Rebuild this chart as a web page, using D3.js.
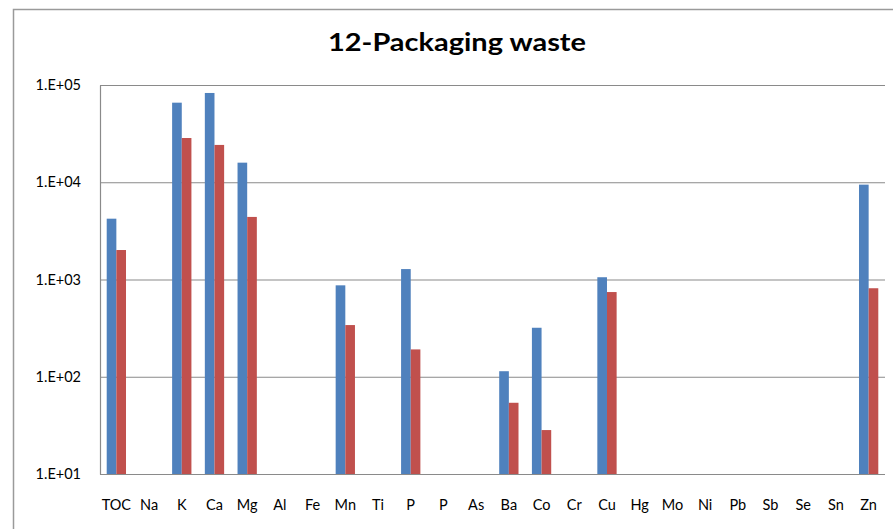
<!DOCTYPE html>
<html>
<head>
<meta charset="utf-8">
<script src="https://cdn.jsdelivr.net/npm/d3@7/dist/d3.min.js"></script>
<style>
  html, body { margin: 0; padding: 0; background: #fff; }
  svg { display: block; }
  text { font-family: Lato, "Open Sans", "Liberation Sans", sans-serif; fill: #000; }
</style>
</head>
<body>
<svg id="chart" width="893" height="529"></svg>
<script>
// ---- data ----
const title = "12-Packaging waste";
const categories = ["TOC","Na","K","Ca","Mg","Al","Fe","Mn","Ti","P","P","As","Ba","Co","Cr","Cu","Hg","Mo","Ni","Pb","Sb","Se","Sn","Zn"];
const seriesNames = ["Series1", "Series2"];
const seriesBlue = [4220, null, 65800, 82800, 15900, null, null, 871, null, 1280, null, null, 114, 319, null, 1055, null, null, null, null, null, null, null, 9450];
const seriesRed  = [2010, null, 28500, 24200, 4400, null, null, 340, null, 191, null, null, 54, 28.3, null, 743, null, null, null, null, null, null, null, 813];
const yTicks = [10, 100, 1000, 10000, 100000];
const yTickLabels = ["1.E+01", "1.E+02", "1.E+03", "1.E+04", "1.E+05"];
const colors = ["#4F81BD", "#C0504D"];

// ---- layout ----
const svg = d3.select("#chart");
const plot = { left: 100, right: 885, top: 85, bottom: 474 };

// outer chart border (extends past viewport, as in reference)
svg.append("rect")
  .attr("x", 13.5).attr("y", 9.5)
  .attr("width", 900).attr("height", 540)
  .attr("fill", "none").attr("stroke", "#9a9a9a").attr("stroke-width", 1.5);

// title
svg.append("text")
  .attr("x", 457).attr("y", 51)
  .attr("text-anchor", "middle")
  .attr("font-size", 25).attr("font-weight", 700)
  .attr("textLength", 258).attr("lengthAdjust", "spacingAndGlyphs")
  .text(title);

const x = d3.scaleBand()
  .domain(d3.range(categories.length))
  .range([plot.left, plot.right])
  .padding(0);

const bw = x.bandwidth();
const xs = d3.scaleBand()
  .domain(d3.range(seriesNames.length))
  .range([bw * 0.205, bw * 0.795])
  .padding(0);

const y = d3.scaleLog()
  .domain([yTicks[0], yTicks[yTicks.length - 1]])
  .range([plot.bottom, plot.top]);

// gridlines
const gy = svg.append("g").attr("transform", `translate(${plot.left},0)`)
  .call(d3.axisLeft(y).tickValues(yTicks).tickSize(-(plot.right - plot.left)).tickFormat(""));
gy.select(".domain").remove();
gy.selectAll(".tick line").attr("stroke", "#8a8a8a").attr("stroke-width", 1.2);

// y axis labels
const ya = svg.append("g").attr("transform", `translate(${plot.left},0)`)
  .call(d3.axisLeft(y).tickValues(yTicks).tickSize(0).tickPadding(19)
    .tickFormat((d, i) => yTickLabels[i]));
ya.select(".domain").attr("stroke", "#8a8a8a").attr("stroke-width", 1.2);
ya.selectAll("text")
  .attr("font-size", 14.5)
  .attr("font-family", "Lato, 'Open Sans', sans-serif")
  .attr("fill", "#000");

// bars
const all = [seriesBlue, seriesRed];
all.forEach((vals, s) => {
  svg.append("g").selectAll("rect")
    .data(vals.map((v, i) => ({ v, i })).filter(d => d.v != null))
    .join("rect")
    .attr("x", d => x(d.i) + xs(s))
    .attr("width", xs.bandwidth())
    .attr("y", d => y(d.v))
    .attr("height", d => plot.bottom - y(d.v))
    .attr("fill", colors[s]);
});

// x axis labels
const xa = svg.append("g").attr("transform", `translate(0,${plot.bottom})`)
  .call(d3.axisBottom(x).tickSize(0).tickPadding(26).tickFormat(i => categories[i]));
xa.select(".domain").remove();
xa.selectAll("text")
  .attr("font-size", 14.5)
  .attr("font-family", "Lato, 'Open Sans', sans-serif")
  .attr("fill", "#000");
</script>
</body>
</html>
